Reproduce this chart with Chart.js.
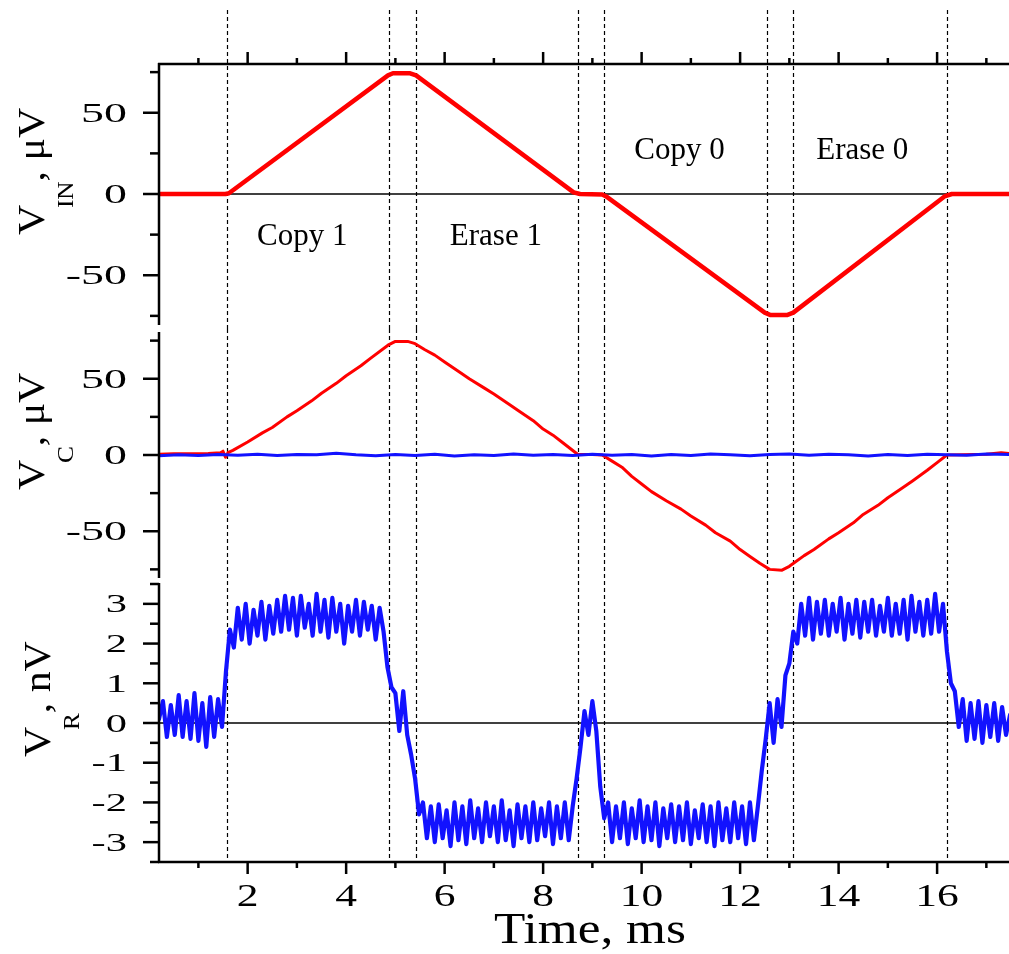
<!DOCTYPE html>
<html>
<head>
<meta charset="utf-8">
<script src="https://cdn.jsdelivr.net/npm/chart.js@4.4.1/dist/chart.umd.min.js"></script>
<style>
  body { margin: 0; background: #fff; }
  #wrap { position: relative; width: 1009px; height: 954px; }
  .panel { position: absolute; left: 0; width: 1009px; }
</style>
</head>
<body>
<div id="wrap">
  <div class="panel" style="top:0;height:329px"><canvas id="vin"></canvas></div>
  <div class="panel" style="top:329px;height:252px"><canvas id="vc"></canvas></div>
  <div class="panel" style="top:581px;height:373px"><canvas id="vr"></canvas></div>
</div>
<script>
/* DATA */
const timeMin = 0.2;
const timeMax = 17.46;
const timeTicks = [2, 4, 6, 8, 10, 12, 14, 16];
const markerTimes = [1.58, 4.88, 5.42, 8.71, 9.24, 12.54, 13.07, 16.21];
const phaseNames = ["Copy 1", "Erase 1", "Copy 0", "Erase 0"];

// V_IN, uV
const vinTicks = [-50, 0, 50];
const vinTimes = [0.18, 1.55, 1.62, 4.85, 4.95, 5.3, 5.42, 8.62, 8.75, 9.2, 9.28, 12.5, 12.62, 12.95, 13.08, 16.15, 16.3, 17.46];
const vinValues = [0, 0, 0.5, 73, 74.3, 74.3, 73, 1, 0, -0.3, -1.5, -73, -74.5, -74.5, -73, -1.5, 0, 0];

// V_C, uV (red = copy signal, blue = reference)
const vcTicks = [-50, 0, 50];
const vcTimes = [0.18, 0.5, 0.8, 1.2, 1.45, 1.5, 1.55, 1.6, 1.7, 2.0, 2.3, 2.5, 2.8, 3.0, 3.3, 3.5, 3.8, 4.0, 4.3, 4.5, 4.85, 5.0, 5.25, 5.4, 5.6, 5.8, 6.0, 6.3, 6.5, 6.8, 7.0, 7.3, 7.5, 7.8, 8.0, 8.2, 8.4, 8.7, 9.0, 9.2, 9.4, 9.6, 9.8, 10.0, 10.2, 10.5, 10.8, 11.0, 11.3, 11.5, 11.8, 12.0, 12.2, 12.4, 12.6, 12.85, 13.0, 13.3, 13.5, 13.8, 14.0, 14.3, 14.5, 14.8, 15.0, 15.3, 15.5, 15.8, 16.0, 16.2, 16.5, 17.0, 17.3, 17.46];
const vcValues = [0.5, 0.9, 0.8, 1.0, 1.5, 2.5, -1.5, 1.5, 3.0, 8.5, 14.5, 18, 25, 29, 35.5, 40.5, 47, 52, 58.5, 63.5, 72, 74.5, 74.5, 73, 69, 65.5, 61, 54.5, 50, 44, 40, 33.5, 29, 22.5, 17, 13, 8, 0.5, 0.3, 0, -4, -8, -14, -19, -24, -30, -35.5, -40, -46, -51, -56.5, -62, -66.5, -71, -75, -75.5, -73, -66, -62, -55, -51, -44.5, -39, -33, -28, -21.5, -17, -10, -5, 0, 0.2, 0.5, 1.5, 1];
const vcRefTimes = [0.18, 0.6, 1.0, 1.4, 1.8, 2.2, 2.6, 3.0, 3.4, 3.8, 4.2, 4.6, 5.0, 5.4, 5.8, 6.2, 6.6, 7.0, 7.4, 7.8, 8.2, 8.6, 9.0, 9.4, 9.8, 10.2, 10.6, 11.0, 11.4, 11.8, 12.2, 12.6, 13.0, 13.4, 13.8, 14.2, 14.6, 15.0, 15.4, 15.8, 16.2, 16.6, 17.0, 17.46];
const vcRefValues = [-0.5, 0.2, -0.3, 0.4, -0.2, 0.5, -0.4, 0.3, 0.1, 1.2, 0.2, -0.5, 0.3, -0.3, 0.5, -0.6, 0.2, -0.4, 0.6, -0.2, 0.4, -0.3, 0.5, -0.2, 0.3, -0.6, 0.4, -0.3, 0.6, 0.2, -0.5, 0.3, 0.7, -0.2, 0.5, 0.1, -0.6, 0.4, -0.3, 0.5, 0.2, -0.1, 0.6, 0.3];

// V_R, nV, sampled every 0.08 ms from 0.2 ms
const vrTicks = [-3, -2, -1, 0, 1, 2, 3];
const vrStart = 0.2;
const vrStep = 0.08;
const vrValues = [
  0.1, 0.55, -0.35, 0.45, -0.3, 0.7, -0.35, 0.55, -0.4, 0.75,
  -0.45, 0.5, -0.6, 0.65, -0.35, 0.6, -0.1, 1.3, 2.35, 1.9,
  2.9, 2.1, 3.0, 2.0, 2.85, 2.2, 3.05, 2.1, 2.95, 2.25,
  3.1, 2.3, 3.2, 2.35, 3.15, 2.2, 3.2, 2.4, 3.0, 2.2,
  3.25, 2.3, 3.1, 2.15, 3.15, 2.3, 3.0, 2.0, 2.95, 2.3,
  3.1, 2.2, 3.05, 2.35, 2.95, 2.1, 2.9, 2.3, 1.4, 0.9,
  0.75, -0.2, 0.8, -0.3, -0.8, -1.4, -2.3, -2.0, -2.9, -2.1,
  -3.0, -2.05, -2.9, -2.2, -3.1, -2.0, -2.95, -2.1, -3.05, -1.95,
  -2.9, -2.15, -3.0, -2.0, -2.85, -2.1, -3.0, -1.95, -2.95, -2.2,
  -3.1, -2.05, -2.9, -2.1, -3.0, -2.0, -2.95, -2.15, -2.85, -2.0,
  -3.05, -2.1, -2.9, -2.0, -2.95, -2.1, -1.4, -0.6, 0.3, -0.3,
  0.55, -0.2, -1.6, -2.4, -2.0, -3.0, -2.1, -2.9, -2.0, -3.05,
  -2.15, -2.9, -1.95, -3.0, -2.1, -2.95, -2.0, -3.1, -2.15, -2.9,
  -2.05, -3.0, -2.1, -2.95, -2.0, -3.05, -2.2, -2.9, -2.05, -3.0,
  -2.1, -3.1, -2.0, -2.95, -2.15, -3.0, -2.0, -2.9, -2.1, -3.05,
  -2.0, -2.95, -2.1, -1.2, -0.4, 0.5, -0.5, 0.6, -0.1, 1.2,
  1.5, 2.3, 2.0, 3.0, 2.2, 3.15, 2.1, 3.05, 2.25, 3.1,
  2.2, 3.0, 2.3, 3.15, 2.1, 3.0, 2.25, 3.1, 2.15, 3.05,
  2.3, 3.1, 2.2, 2.95, 2.3, 3.15, 2.2, 3.0, 2.25, 3.1,
  2.1, 3.2, 2.3, 3.05, 2.2, 3.1, 2.25, 3.25, 2.3, 3.0,
  1.8, 1.0, 0.8, -0.1, 0.6, -0.45, 0.5, -0.4, 0.55, -0.5,
  0.45, -0.35, 0.5, -0.45, 0.4, -0.3, 0.2,
];

/* HELPERS */
const SERIF = '"Liberation Serif", "Times New Roman", serif';
const RED = "rgb(255, 0, 0)";
const BLUE = "rgb(18, 18, 255)";

function pairs(xs, ys) {
  return ys.map((v, i) => ({ x: xs[i], y: v }));
}

function seg(ctx, x1, y1, x2, y2) {
  ctx.beginPath();
  ctx.moveTo(x1, y1);
  ctx.lineTo(x2, y2);
  ctx.stroke();
}

function wideText(ctx, text, x, y, size, sx, align) {
  ctx.save();
  ctx.font = size + "px " + SERIF;
  ctx.translate(x, y);
  ctx.scale(sx, 1);
  ctx.textAlign = align;
  ctx.textBaseline = "alphabetic";
  ctx.fillText(text, 0, 0);
  ctx.restore();
}

// rotated axis title, parts: [text, size, shift below baseline, extra gap after]
function yTitle(ctx, parts, x, y) {
  ctx.save();
  ctx.translate(x, y);
  ctx.rotate(-Math.PI / 2);
  ctx.scale(1.1, 1);
  ctx.textBaseline = "alphabetic";
  ctx.textAlign = "left";
  let pos = 0;
  parts.forEach(([t, size, dy, gap]) => {
    ctx.font = size + "px " + SERIF;
    ctx.fillText(t, pos, dy);
    pos += ctx.measureText(t).width + (gap || 0);
  });
  ctx.restore();
}

const frame = {
  id: "frame",
  beforeDatasetsDraw(chart, args, o) {
    const { ctx, chartArea: a } = chart;
    const x = chart.scales.x, y = chart.scales.y;
    ctx.save();
    ctx.strokeStyle = "#000";
    if (o.zero) {
      ctx.lineWidth = 1.6;
      const zy = y.getPixelForValue(0);
      seg(ctx, a.left, zy, a.right, zy);
    }
    ctx.lineWidth = 1.2;
    ctx.setLineDash([4, 3]);
    markerTimes.forEach((t) => {
      const px = Math.round(x.getPixelForValue(t)) + 0.5;
      seg(ctx, px, o.dashTop, px, o.dashBottom === undefined ? a.bottom : o.dashBottom);
    });
    ctx.restore();
  },
  afterDraw(chart, args, o) {
    const { ctx, chartArea: a } = chart;
    const x = chart.scales.x, y = chart.scales.y;
    ctx.save();
    ctx.strokeStyle = "#000";
    ctx.fillStyle = "#000";
    ctx.lineWidth = 2.5;
    ctx.lineCap = "butt";

    // left axis with major / minor ticks
    seg(ctx, a.left, a.top - 1, a.left, a.bottom + 1);
    const n0 = Math.ceil(y.min / o.minor - 1e-9), n1 = Math.floor(y.max / o.minor + 1e-9);
    for (let k = n0; k <= n1; k++) {
      const v = k * o.minor;
      const major = o.ticks.some((t) => Math.abs(t - v) < 1e-6);
      const py = y.getPixelForValue(v);
      seg(ctx, a.left - (major ? 16 : 9), py, a.left, py);
    }
    o.ticks.forEach((t) => {
      const py = y.getPixelForValue(t);
      wideText(ctx, String(t), 127, py + o.labelSize * 0.34, o.labelSize, 1.7, "right");
    });

    // time axis at top or bottom
    const edge = o.timeAxis === "top" ? a.top : o.timeAxis === "bottom" ? a.bottom : null;
    if (edge !== null) {
      const dir = o.timeAxis === "top" ? -1 : 1;
      seg(ctx, a.left - 1, edge, a.right, edge);
      for (let k = Math.ceil(x.min); k <= Math.floor(x.max); k++) {
        const px = x.getPixelForValue(k);
        const major = timeTicks.includes(k);
        seg(ctx, px, edge, px, edge + dir * (major ? 12 : 6));
      }
      if (o.timeAxis === "bottom") {
        timeTicks.forEach((t) => {
          wideText(ctx, String(t), x.getPixelForValue(t), edge + 44, 32, 1.36, "center");
        });
        wideText(ctx, "Time, ms", 590, edge + 81, 45, 1.14, "center");
      }
    }

    // phase names
    (o.phases || []).forEach(([name, t, v]) => {
      wideText(ctx, name, x.getPixelForValue(t), y.getPixelForValue(v), 31, 1, "center");
    });

    yTitle(ctx, o.title, o.titleX, o.titleY);
    ctx.restore();
  },
};

function panel(id, datasets, yMin, yMax, padding, frameOptions) {
  return new Chart(document.getElementById(id).getContext("2d"), {
    type: "line",
    data: { datasets: datasets },
    options: {
      responsive: true,
      maintainAspectRatio: false,
      animation: false,
      events: [],
      layout: { padding: padding },
      elements: {
        point: { radius: 0 },
        line: { tension: 0, borderJoinStyle: "round", borderCapStyle: "round" },
      },
      scales: {
        x: { type: "linear", min: timeMin, max: timeMax, display: false },
        y: { type: "linear", min: yMin, max: yMax, display: false },
      },
      plugins: {
        legend: { display: false },
        tooltip: { enabled: false },
        frame: frameOptions,
      },
    },
    plugins: [frame],
  });
}

/* PANELS */
let vinChart = panel(
  "vin",
  [{ data: pairs(vinTimes, vinValues), borderColor: RED, borderWidth: 4.5 }],
  -80, 80,
  { left: 159, right: 0, top: 64, bottom: 5 },
  {
    ticks: vinTicks, minor: 25, labelSize: 27, zero: true, timeAxis: "top",
    dashTop: 10, dashBottom: 329,
    phases: [[phaseNames[0], 3.11, -31.5], [phaseNames[1], 7.04, -31.5], [phaseNames[2], 10.77, 21.6], [phaseNames[3], 14.48, 21.6]],
    title: [["V", 38, 0, -3], ["IN", 23, 29, 0], [", \u03bcV", 38, 0, 0]],
    titleX: 44, titleY: 235,
  }
);

let vcChart = panel(
  "vc",
  [
    { data: pairs(vcRefTimes, vcRefValues), borderColor: BLUE, borderWidth: 3 },
    { data: pairs(vcTimes, vcValues), borderColor: RED, borderWidth: 3 },
  ],
  -80, 80,
  { left: 159, right: 0, top: 4, bottom: 4 },
  {
    ticks: vcTicks, minor: 25, labelSize: 27, zero: false, timeAxis: null,
    dashTop: 0, dashBottom: 252,
    title: [["V", 38, 0, -3], ["C", 23, 29, 0], [", \u03bcV", 38, 0, 0]],
    titleX: 44, titleY: 490 - 329,
  }
);

let vrChart = panel(
  "vr",
  [{ data: vrValues.map((v, i) => ({ x: vrStart + i * vrStep, y: v })), borderColor: BLUE, borderWidth: 4.2 }],
  -3.5, 3.5,
  { left: 159, right: 0, top: 3, bottom: 92 },
  {
    ticks: vrTicks, minor: 0.5, labelSize: 25, zero: true, timeAxis: "bottom",
    dashTop: 0,
    title: [["V", 38, 0, -3], ["R", 23, 29, 0], [", nV", 38, 0, 0]],
    titleX: 50, titleY: 757 - 581,
  }
);
</script>
</body>
</html>
